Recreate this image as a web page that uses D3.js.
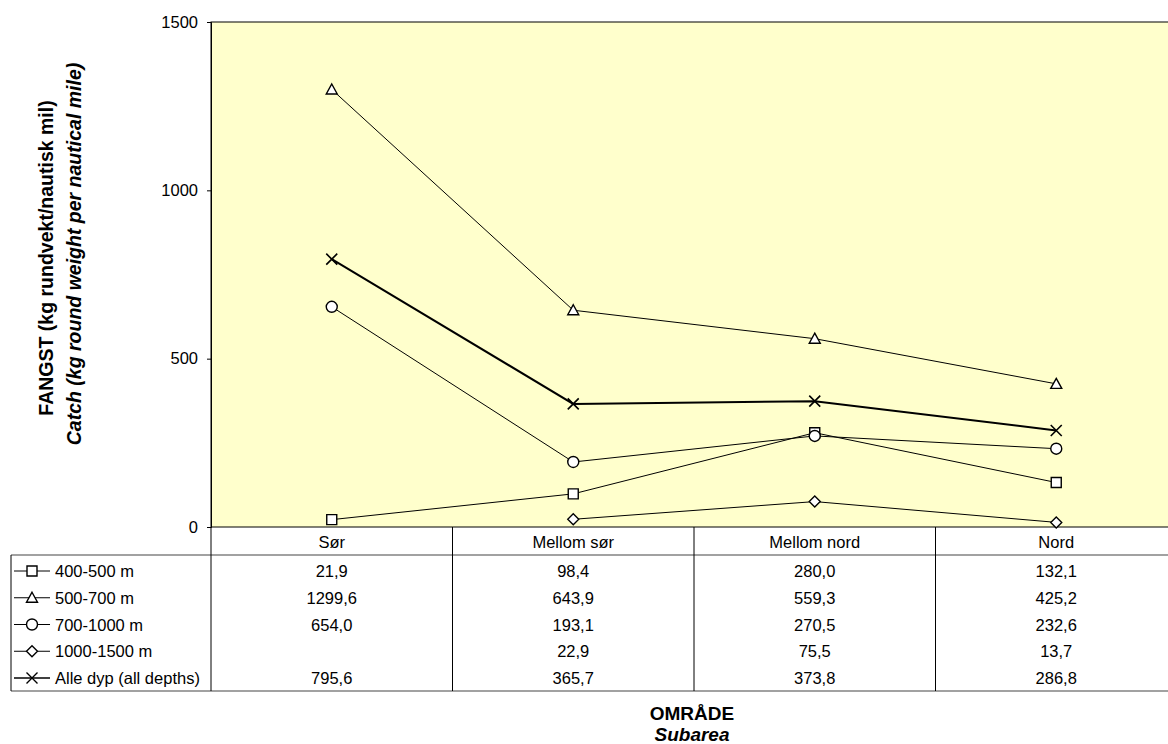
<!DOCTYPE html>
<html>
<head>
<meta charset="utf-8">
<script src="https://cdn.jsdelivr.net/npm/d3@7"></script>
<style>
  body { margin: 0; background: #fff; }
  text { font-family: Arial, "Liberation Sans", sans-serif; fill: #000; }
</style>
</head>
<body>
<script>
'use strict';

const categories = ['Sør', 'Mellom sør', 'Mellom nord', 'Nord'];
const seriesNames = ['400-500 m', '500-700 m', '700-1000 m', '1000-1500 m', 'Alle dyp (all depths)'];
const seriesMarkers = ['square', 'triangle', 'circle', 'diamond', 'cross'];
const seriesWidths = [1, 1, 1, 1, 2];
const values400 = [21.9, 98.4, 280.0, 132.1];
const values500 = [1299.6, 643.9, 559.3, 425.2];
const values700 = [654.0, 193.1, 270.5, 232.6];
const values1000 = [null, 22.9, 75.5, 13.7];
const valuesAll = [795.6, 365.7, 373.8, 286.8];
const yTicks = [0, 500, 1000, 1500];

const seriesValues = [values400, values500, values700, values1000, valuesAll];

const msm = {
  width: 1168,
  height: 744,
  plotLeft: 211,
  plotRight: 1177,
  plotTop: 22,
  plotBottom: 527,
  tableLeft: 11,
  headerBottom: 555,
  rowHeight: 26.75,
  tableBottom: 691
};

const svg = d3.select('body')
  .append('svg')
  .attr('width', msm.width)
  .attr('height', msm.height);

// scales
const xBand = d3.scaleBand()
  .domain(categories)
  .range([msm.plotLeft, msm.plotRight])
  .padding(0);
const xMid = (c) => xBand(c) + xBand.bandwidth() / 2;

const yScale = d3.scaleLinear()
  .domain([0, 1500])
  .range([msm.plotBottom, msm.plotTop]);

// plot background
svg.append('rect')
  .attr('x', msm.plotLeft)
  .attr('y', msm.plotTop)
  .attr('width', msm.plotRight - msm.plotLeft)
  .attr('height', msm.plotBottom - msm.plotTop)
  .attr('fill', '#ffffcc')
  .attr('stroke', '#000')
  .attr('stroke-width', 1);

// y axis
const yAxis = d3.axisLeft(yScale)
  .tickValues(yTicks)
  .tickSize(4)
  .tickPadding(9)
  .tickFormat(d3.format('d'));
const yg = svg.append('g')
  .attr('transform', 'translate(' + msm.plotLeft + ',0)')
  .call(yAxis);
yg.select('.domain').attr('stroke', '#000');
yg.selectAll('text')
  .style('font-size', '16.5px')
  .style('font-family', 'Arial, "Liberation Sans", sans-serif');

// marker shapes
function markerPath(type) {
  switch (type) {
    case 'square':
      return 'M-5,-5H5V5H-5Z';
    case 'triangle':
      return 'M0,-5.5L5.5,4.5H-5.5Z';
    case 'circle':
      return d3.symbol(d3.symbolCircle, 95)();
    case 'diamond':
      return 'M0,-5.5L5.5,0L0,5.5L-5.5,0Z';
    case 'cross':
      return 'M-5.5,-5.5L5.5,5.5M5.5,-5.5L-5.5,5.5';
  }
}

// lines
const line = d3.line()
  .defined((d) => d.v != null)
  .x((d) => xMid(d.c))
  .y((d) => yScale(d.v));

seriesValues.forEach((vals, i) => {
  const pts = categories.map((c, j) => ({ c: c, v: vals[j] }));
  svg.append('path')
    .datum(pts)
    .attr('fill', 'none')
    .attr('stroke', '#000')
    .attr('stroke-width', seriesWidths[i])
    .attr('d', line);

  svg.selectAll('.m' + i)
    .data(pts.filter((d) => d.v != null))
    .enter()
    .append('path')
      .attr('class', 'm' + i)
      .attr('transform', (d) => 'translate(' + xMid(d.c) + ',' + yScale(d.v) + ')')
      .attr('d', markerPath(seriesMarkers[i]))
      .attr('fill', seriesMarkers[i] === 'cross' ? 'none' : '#fff')
      .attr('stroke', '#000')
      .attr('stroke-width', seriesMarkers[i] === 'cross' ? 1.6 : 1.4);
});

// data table
const table = svg.append('g');

// horizontal lines
table.append('line')
  .attr('x1', msm.tableLeft).attr('x2', msm.width)
  .attr('y1', msm.headerBottom).attr('y2', msm.headerBottom)
  .attr('stroke', '#444').attr('stroke-width', 1.2);
table.append('line')
  .attr('x1', msm.tableLeft).attr('x2', msm.width)
  .attr('y1', msm.tableBottom).attr('y2', msm.tableBottom)
  .attr('stroke', '#444').attr('stroke-width', 1.2);

// vertical lines
table.append('line')
  .attr('x1', msm.tableLeft).attr('x2', msm.tableLeft)
  .attr('y1', msm.headerBottom).attr('y2', msm.tableBottom)
  .attr('stroke', '#000');
const vlines = [msm.plotLeft].concat(categories.map((c) => xBand(c) + xBand.bandwidth()));
table.selectAll('.vline')
  .data(vlines)
  .enter()
  .append('line')
    .attr('class', 'vline')
    .attr('x1', (d) => d).attr('x2', (d) => d)
    .attr('y1', msm.plotBottom).attr('y2', msm.tableBottom)
    .attr('stroke', '#000');

// column headers
table.selectAll('.hdr')
  .data(categories)
  .enter()
  .append('text')
    .attr('class', 'hdr')
    .attr('x', (d) => xMid(d))
    .attr('y', msm.plotBottom + 21)
    .attr('text-anchor', 'middle')
    .style('font-size', '16.5px')
    .text((d) => d);

const fmt = (v) => v == null ? '' : d3.format('.1f')(v).replace('.', ',');

seriesValues.forEach((vals, i) => {
  const yBase = msm.headerBottom + 22 + i * msm.rowHeight;
  const yMidRow = yBase - 6;

  // legend key
  table.append('line')
    .attr('x1', 14).attr('x2', 50)
    .attr('y1', yMidRow).attr('y2', yMidRow)
    .attr('stroke', '#000')
    .attr('stroke-width', seriesWidths[i] === 2 ? 1.6 : 1);
  table.append('path')
    .attr('transform', 'translate(32,' + yMidRow + ')')
    .attr('d', markerPath(seriesMarkers[i]))
    .attr('fill', seriesMarkers[i] === 'cross' ? 'none' : '#fff')
    .attr('stroke', '#000')
    .attr('stroke-width', 1.4);
  table.append('text')
    .attr('x', 55)
    .attr('y', yBase)
    .style('font-size', '16.5px')
    .text(seriesNames[i]);

  table.selectAll('.v' + i)
    .data(categories)
    .enter()
    .append('text')
      .attr('class', 'v' + i)
      .attr('x', (c) => xMid(c))
      .attr('y', yBase)
      .attr('text-anchor', 'middle')
      .style('font-size', '16.5px')
      .text((c, j) => fmt(vals[j]));
});

// axis titles
const xc = (msm.plotLeft + msm.plotRight) / 2;
svg.append('text')
  .attr('x', xc - 2)
  .attr('y', 720)
  .attr('text-anchor', 'middle')
  .style('font-size', '19px')
  .style('font-weight', 'bold')
  .text('OMRÅDE');
svg.append('text')
  .attr('x', xc - 2)
  .attr('y', 741)
  .attr('text-anchor', 'middle')
  .style('font-size', '19px')
  .style('font-weight', 'bold')
  .style('font-style', 'italic')
  .text('Subarea');

svg.append('text')
  .attr('transform', 'translate(53,258) rotate(-90)')
  .attr('text-anchor', 'middle')
  .style('font-size', '19.5px')
  .style('font-weight', 'bold')
  .text('FANGST (kg rundvekt/nautisk mil)');
svg.append('text')
  .attr('transform', 'translate(81,254) rotate(-90)')
  .attr('text-anchor', 'middle')
  .style('font-size', '19.5px')
  .style('font-weight', 'bold')
  .style('font-style', 'italic')
  .text('Catch (kg round weight per nautical mile)');
</script>
</body>
</html>
